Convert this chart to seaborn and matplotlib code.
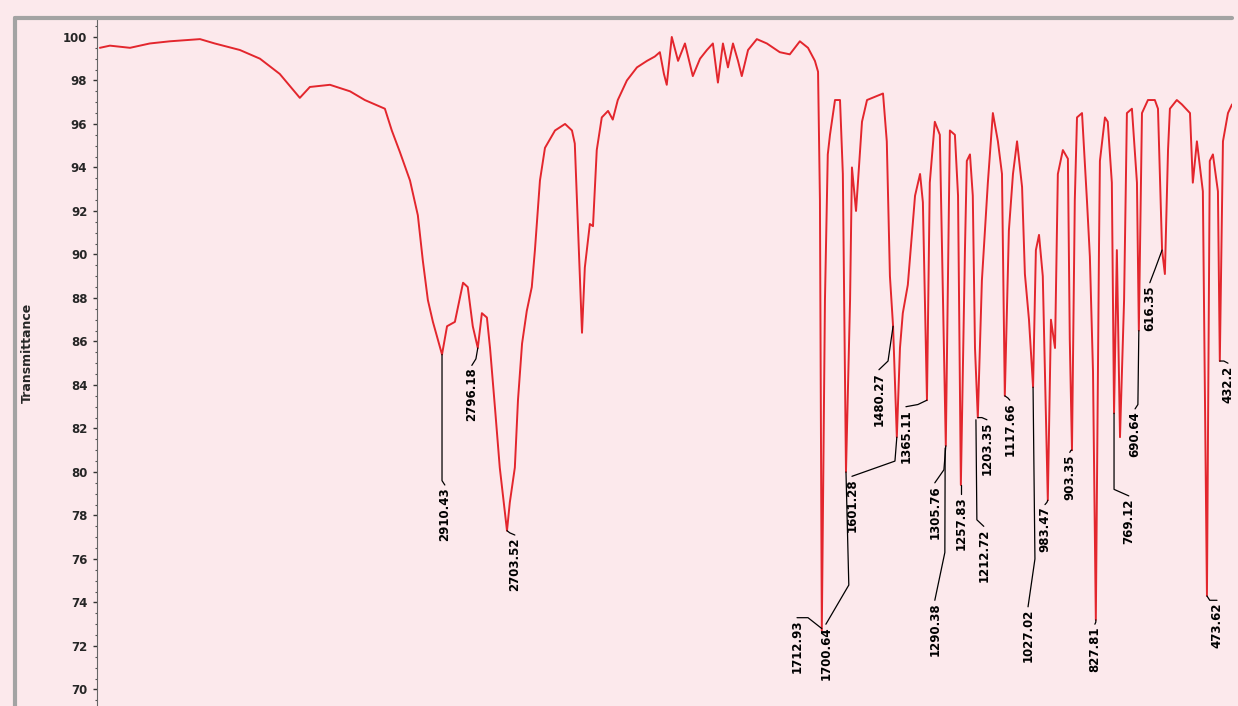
import matplotlib
matplotlib.use("Agg")
import matplotlib.pyplot as plt
from matplotlib.lines import Line2D
from matplotlib.ticker import MultipleLocator
import pandas as pd
import seaborn as sns

# IR spectrum (wavenumber in cm-1, transmittance in %)
wavenumber = [
    4000, 3968, 3904, 3841, 3777, 3681, 3634, 3554, 3490, 3427,
    3363, 3331, 3267, 3203, 3156, 3092, 3070, 3044, 3012, 2987,
    2971, 2955, 2939, 2910, 2894, 2869, 2843, 2828, 2812, 2796,
    2783, 2767, 2757, 2741, 2726, 2703, 2694, 2678, 2668, 2655,
    2640, 2624, 2614, 2598, 2582, 2550, 2518, 2496, 2487, 2477,
    2464, 2455, 2439, 2429, 2417, 2401, 2381, 2366, 2350, 2321,
    2289, 2257, 2232, 2216, 2203, 2194, 2178, 2158, 2136, 2111,
    2088, 2066, 2047, 2031, 2015, 1999, 1983, 1967, 1955, 1935,
    1907, 1875, 1834, 1802, 1770, 1744, 1722, 1712, 1706, 1700,
    1690, 1681, 1674, 1658, 1642, 1633, 1623, 1610, 1604, 1591,
    1572, 1556, 1505, 1493, 1483, 1473, 1461, 1451, 1442, 1426,
    1403, 1387, 1378, 1365, 1356, 1340, 1324, 1314, 1305, 1292,
    1276, 1266, 1257, 1244, 1238, 1228, 1219, 1212, 1203, 1190,
    1171, 1155, 1139, 1126, 1117, 1104, 1091, 1078, 1062, 1053,
    1040, 1027, 1018, 1008, 996, 980, 970, 957, 948, 932,
    916, 910, 903, 894, 887, 871, 855, 846, 836, 827,
    817, 814, 798, 789, 776, 769, 760, 750, 737, 728,
    712, 696, 690, 680, 661, 639, 629, 616, 607, 597,
    591, 569, 553, 527, 518, 505, 486, 473, 464, 454,
    438, 432, 422, 406, 393,
]
transmittance = [
    99.5, 99.6, 99.5, 99.7, 99.8, 99.9, 99.7, 99.4, 99.0, 98.3,
    97.2, 97.7, 97.8, 97.5, 97.1, 96.7, 95.7, 94.7, 93.4, 91.8,
    89.7, 87.9, 86.9, 85.4, 86.7, 86.9, 88.7, 88.5, 86.7, 85.7,
    87.3, 87.1, 85.7, 82.9, 80.2, 77.3, 78.6, 80.2, 83.3, 85.9,
    87.4, 88.5, 90.2, 93.4, 94.9, 95.7, 96.0, 95.7, 95.1, 91.3,
    86.4, 89.4, 91.4, 91.3, 94.8, 96.3, 96.6, 96.2, 97.1, 98.0,
    98.6, 98.9, 99.1, 99.3, 98.3, 97.8, 100.0, 98.9, 99.7, 98.2,
    99.0, 99.4, 99.7, 97.9, 99.7, 98.6, 99.7, 98.9, 98.2, 99.4,
    99.9, 99.7, 99.3, 99.2, 99.8, 99.5, 98.9, 98.4, 92.5, 72.7,
    87.9, 94.6, 95.5, 97.1, 97.1, 93.7, 80.0, 87.9, 94.0, 92.0,
    96.1, 97.1, 97.4, 95.2, 89.0, 86.7, 81.6, 85.7, 87.3, 88.6,
    92.7, 93.7, 92.4, 83.3, 93.3, 96.1, 95.5, 87.9, 81.2, 95.7,
    95.5, 92.7, 79.4, 90.2, 94.3, 94.6, 92.7, 85.7, 82.5, 88.8,
    93.3, 96.5, 95.2, 93.7, 83.5, 91.1, 93.7, 95.2, 93.1, 89.1,
    87.0, 83.9, 90.2, 90.9, 89.0, 78.7, 87.0, 85.7, 93.7, 94.8,
    94.4, 86.1, 81.0, 92.5, 96.3, 96.5, 92.4, 89.9, 84.6, 73.2,
    90.2, 94.3, 96.3, 96.1, 93.3, 82.7, 90.2, 81.6, 87.9, 96.5,
    96.7, 93.3, 86.5, 96.5, 97.1, 97.1, 96.7, 90.2, 89.1, 94.8,
    96.7, 97.1, 96.9, 96.5, 93.3, 95.2, 92.9, 74.3, 94.3, 94.6,
    92.9, 85.1, 95.2, 96.5, 96.9,
]

# peak picks: dip, leader bend, label anchor, label text
peak_wn = [2910, 2796, 2703, 1700, 1623, 1461, 1473, 1365, 1305, 1307, 1257, 1203,
           1209, 1117, 1027, 980, 903, 827, 769, 690, 616, 473, 432]
peak_t = [85.4, 85.7, 77.3, 72.8, 80.0, 81.6, 86.7, 83.3, 81.2, 81.1, 79.4, 82.5,
          82.4, 83.5, 83.9, 78.7, 81.0, 73.2, 82.7, 86.5, 90.2, 74.3, 85.1]
kink_wn = [2910, 2802, 2694, 1744, 1614, 1467, 1489, 1394, 1311, 1308, 1257, 1190,
           1206, 1107, 1021, 983, 906, 827, 769, 693, 639, 464, 419]
kink_t = [79.6, 85.2, 77.2, 73.3, 74.8, 80.5, 85.1, 83.1, 80.1, 76.3, 79.2, 82.5,
          77.8, 83.4, 76.0, 78.6, 81.0, 73.1, 79.2, 83.1, 89.3, 74.1, 85.1]
label_wn = [2901, 2815, 2678, 1779, 1687, 1604, 1518, 1432, 1340, 1340, 1257, 1174,
            1184, 1101, 1043, 989, 910, 830, 722, 702, 655, 441, 406]
label_t = [79.4, 84.9, 77.1, 73.3, 73.0, 79.8, 84.7, 83.0, 79.5, 74.1, 79.0, 82.4,
           77.5, 83.3, 73.8, 78.5, 80.9, 73.0, 78.9, 82.9, 88.7, 74.1, 85.0]
peak_text = ["2910.43", "2796.18", "2703.52", "1712.93", "1700.64", "1601.28",
             "1480.27", "1365.11", "1305.76", "1290.38", "1257.83", "1203.35",
             "1212.72", "1117.66", "1027.02", "983.47", "903.35", "827.81",
             "769.12", "690.64", "616.35", "473.62", "432.2"]

y_ticks = list(range(70, 101, 2))

bg = "#fce9ec"
sns.set_theme(style="white")
plt.rcParams["font.family"] = ["DejaVu Sans"]

fig = plt.figure(figsize=(12.38, 7.06), dpi=100, facecolor=bg)
ax = fig.add_axes([0.0784, 0.0, 0.9168, 0.9717])
ax.set_facecolor(bg)

spec = pd.DataFrame({"wn": wavenumber, "T": transmittance})
sns.lineplot(data=spec, x="wn", y="T", sort=False, estimator=None,
             color="#e3262d", lw=1.4, ax=ax)

for i in range(len(peak_wn)):
    ax.plot([peak_wn[i], kink_wn[i], label_wn[i]],
            [peak_t[i], kink_t[i], label_t[i]], color="black", lw=0.9)
    ax.text(label_wn[i], label_t[i] - 0.1, peak_text[i], rotation=90,
            ha="center", va="top", fontsize=8.5, fontweight="bold", color="black")

ax.set_xlim(4009, 393)
ax.set_ylim(69.24, 100.78)
ax.set_xticks([])
ax.set_xlabel("")
ax.set_ylabel("")
ax.set_yticks(y_ticks)
ax.set_yticklabels([str(t) for t in y_ticks], fontsize=8.5, fontweight="bold")
ax.yaxis.set_minor_locator(MultipleLocator(0.5))
ax.tick_params(axis="y", which="major", left=True, length=3, width=1, color="#333333", pad=4)
ax.tick_params(axis="y", which="minor", left=True, length=1.5, width=0.8, color="#555555")
for side in ["top", "right", "bottom"]:
    ax.spines[side].set_visible(False)
ax.spines["left"].set_color("#666666")
ax.spines["left"].set_linewidth(0.8)

# grey outer frame: top and left edges only
fig.add_artist(Line2D([0.012, 0.995], [0.975, 0.975], transform=fig.transFigure,
                      color="#a3a3a3", lw=3))
fig.add_artist(Line2D([0.012, 0.012], [0.0, 0.975], transform=fig.transFigure,
                      color="#a3a3a3", lw=3))
fig.text(0.022, 0.5, "Transmittance", rotation=90, ha="center", va="center",
         fontsize=9, fontweight="bold")

plt.savefig("out.png", dpi=100, facecolor=bg)
